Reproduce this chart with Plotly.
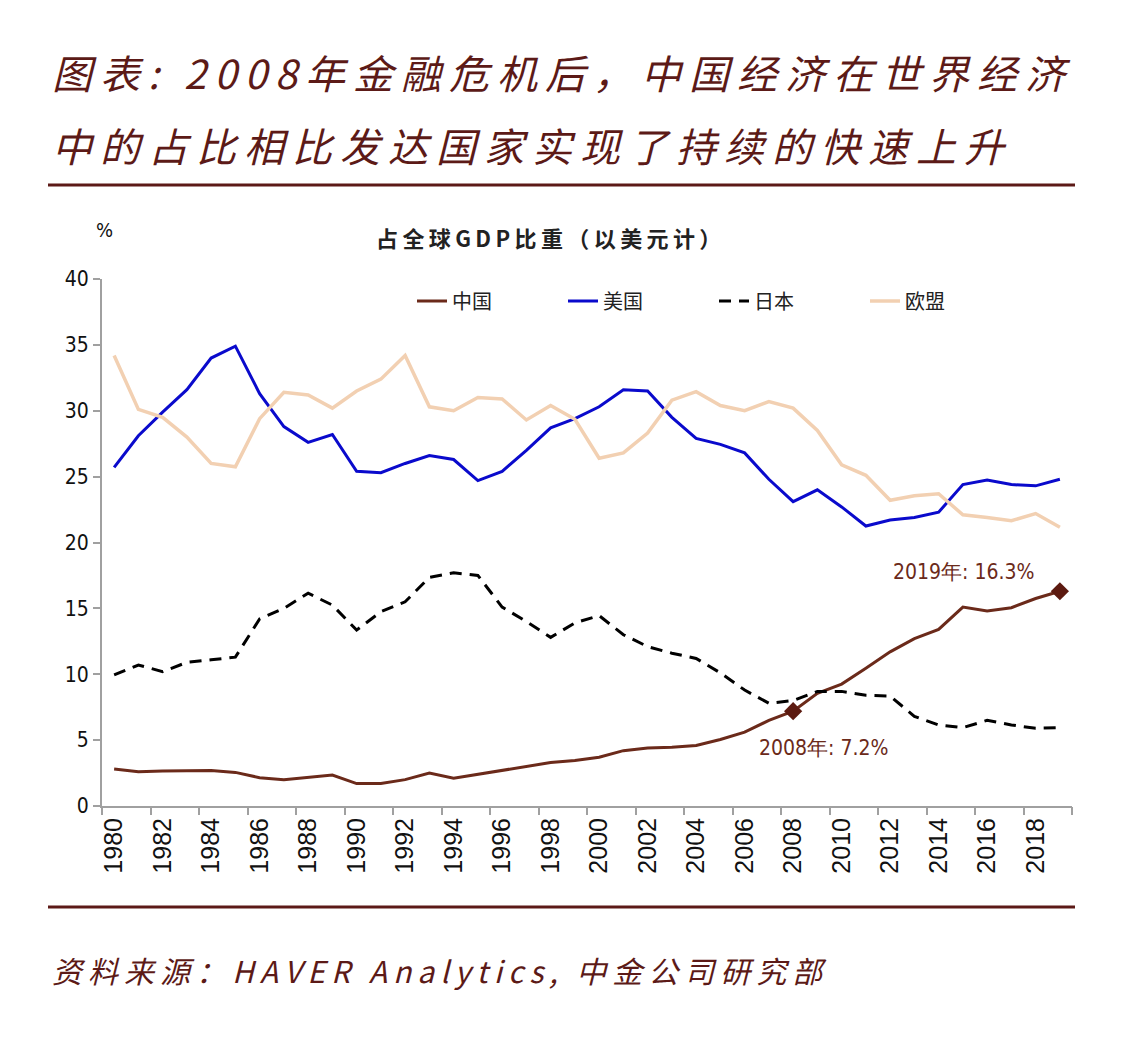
import plotly.graph_objects as go

years = list(range(1980, 2020))
china = [2.8, 2.6, 2.65, 2.7, 2.7, 2.55, 2.15, 2.0, 2.2, 2.35,
         1.7, 1.7, 2.0, 2.5, 2.1, 2.4, 2.75, 3.05, 3.3, 3.45,
         3.7, 4.2, 4.4, 4.45, 4.6, 5.05, 5.6, 6.5, 7.2, 8.55,
         9.25, 10.45, 11.7, 12.7, 13.4, 15.1, 14.8, 15.05, 15.75, 16.3]
usa = [25.7, 28.1, 29.9, 31.6, 34.0, 34.9, 31.3, 28.8, 27.6, 28.2,
       25.4, 25.3, 26.0, 26.6, 26.3, 24.7, 25.4, 27.0, 28.7, 29.4,
       30.3, 31.6, 31.5, 29.5, 27.9, 27.45, 26.8, 24.8, 23.1, 24.0,
       22.7, 21.25, 21.7, 21.9, 22.3, 24.4, 24.75, 24.4, 24.3, 24.8]
japan = [9.95, 10.7, 10.2, 10.9, 11.1, 11.3, 14.2, 15.0, 16.15, 15.25,
         13.35, 14.75, 15.5, 17.35, 17.7, 17.5, 15.1, 14.0, 12.8, 13.9,
         14.45, 13.0, 12.1, 11.6, 11.2, 10.1, 8.8, 7.8, 8.0, 8.7,
         8.7, 8.4, 8.35, 6.8, 6.15, 5.95, 6.5, 6.15, 5.9, 5.95]
eu = [34.2, 30.1, 29.5, 28.0, 26.0, 25.75, 29.4, 31.4, 31.2, 30.2,
      31.5, 32.4, 34.2, 30.3, 30.0, 31.0, 30.9, 29.3, 30.4, 29.35,
      26.4, 26.8, 28.3, 30.8, 31.45, 30.4, 30.0, 30.7, 30.2, 28.5,
      25.9, 25.1, 23.2, 23.55, 23.7, 22.1, 21.9, 21.65, 22.2, 21.15]
series_names = ["中国", "美国", "日本", "欧盟"]
highlight_years = [2008, 2019]
highlight_labels = ["2008年: 7.2%", "2019年: 16.3%"]
tick_years = list(range(1980, 2020, 2))
y_ticks = [0, 5, 10, 15, 20, 25, 30, 35, 40]

title_lines = ["图表: 2008年金融危机后，中国经济在世界经济", "中的占比相比发达国家实现了持续的快速上升"]
subtitle_text = "占全球GDP比重（以美元计）"
source_text = "资料来源：HAVER Analytics, 中金公司研究部"

OFF = 8  # browser default body margin
W, H = 1125 - 2 * OFF, 1056 - 2 * OFF
L, R, T, B = 102 - OFF, 1072 - OFF, 279 - OFF, 806 - OFF
DARK = "#5C1A17"
BROWN = "#6B2A1A"

def px(xp):
    return (xp - OFF - L) / (R - L)

def py(yp):
    return (B - (yp - OFF)) / (B - T)

def spaced(s, sep="\u2009"):
    return sep.join(list(s))

fig = go.Figure()
fig.add_trace(go.Scatter(x=years, y=china, name=series_names[0], mode="lines",
                         line=dict(color=BROWN, width=3)))
fig.add_trace(go.Scatter(x=years, y=usa, name=series_names[1], mode="lines",
                         line=dict(color="#0A0ACC", width=3)))
fig.add_trace(go.Scatter(x=years, y=japan, name=series_names[2], mode="lines",
                         line=dict(color="#000000", width=3, dash="12px,8px")))
fig.add_trace(go.Scatter(x=years, y=eu, name=series_names[3], mode="lines",
                         line=dict(color="#F2D0B2", width=3.5)))
hx = highlight_years
hy = [china[years.index(y)] for y in hx]
fig.add_trace(go.Scatter(x=hx, y=hy, mode="markers", showlegend=False,
                         marker=dict(symbol="diamond", size=14, color="#5C1A10")))
# boundary ticks axis
fig.add_trace(go.Scatter(x=[1980], y=[0], xaxis="x2", mode="markers",
                         marker=dict(opacity=0), showlegend=False, hoverinfo="skip"))

fig.update_layout(
    width=W, height=H,
    margin=dict(l=L, r=W - R, t=T, b=H - B),
    paper_bgcolor="white", plot_bgcolor="white",
    font=dict(family="Liberation Sans, Arial, sans-serif", color="#111"),
    showlegend=True,
    legend=dict(orientation="h", x=px(412), y=py(301), xanchor="left", yanchor="middle",
                entrywidth=106, entrywidthmode="pixels",
                font=dict(family="Noto Sans CJK SC", size=20, color="#222"),
                bgcolor="rgba(0,0,0,0)"),
    xaxis=dict(range=[1979.5, 2019.5], tickvals=tick_years, ticktext=[str(v) for v in tick_years],
               tickangle=-90, ticks="", showgrid=False, zeroline=False,
               showline=True, linecolor="#A0A0A0", linewidth=2,
               tickfont=dict(family="Liberation Sans", size=25, color="#111")),
    xaxis2=dict(range=[1979.5, 2019.5], overlaying="x", anchor="y",
                tickvals=[1979.5 + 2 * i for i in range(21)], showticklabels=False,
                ticks="outside", ticklen=8, tickcolor="#A0A0A0", tickwidth=1.5,
                showgrid=False, zeroline=False, showline=False, side="bottom"),
    yaxis=dict(range=[0, 40], tickvals=y_ticks, ticks="outside", ticklen=7,
               tickcolor="#A0A0A0", tickwidth=1.5, showgrid=False, zeroline=False,
               showline=True, linecolor="#A0A0A0", linewidth=2,
               tickfont=dict(family="DejaVu Sans Condensed, DejaVu Sans", size=21, color="#111")),
)

shapes = []
for yp in (185, 907):
    shapes.append(dict(type="line", xref="paper", yref="paper", x0=px(48), x1=px(1075),
                       y0=py(yp), y1=py(yp), line=dict(color=DARK, width=3)))
fig.update_layout(shapes=shapes)

ann = []
for line, yc in zip(title_lines, (72, 145)):
    ann.append(dict(text=f"<i>{spaced(line)}</i>", xref="paper", yref="paper", x=px(50), y=py(yc),
                    xanchor="left", yanchor="middle", showarrow=False, align="left",
                    font=dict(family="Noto Sans CJK SC", size=40, color=DARK)))
ann.append(dict(text=f"<i>{spaced(source_text)}</i>", xref="paper", yref="paper", x=px(50), y=py(970),
                xanchor="left", yanchor="middle", showarrow=False, align="left",
                font=dict(family="Noto Sans CJK SC", size=30, color=DARK)))
ann.append(dict(text=f"<b>{spaced(subtitle_text)}</b>", xref="paper", yref="paper", x=px(548), y=py(237),
                xanchor="center", yanchor="middle", showarrow=False,
                font=dict(family="Noto Sans CJK SC", size=22, color="#222")))
ann.append(dict(text="%", xref="paper", yref="paper", x=px(104), y=py(230),
                xanchor="center", yanchor="middle", showarrow=False,
                font=dict(family="DejaVu Sans Condensed, DejaVu Sans", size=20, color="#111")))
ann.append(dict(text=highlight_labels[0], x=hx[0], y=hy[0], xref="x", yref="y",
                showarrow=False, xanchor="center", yanchor="middle", xshift=30, yshift=-37,
                font=dict(family="DejaVu Sans Condensed, DejaVu Sans", size=21, color=BROWN)))
ann.append(dict(text=highlight_labels[1], x=hx[1], y=hy[1], xref="x", yref="y",
                showarrow=False, xanchor="center", yanchor="middle", xshift=-96, yshift=19,
                font=dict(family="DejaVu Sans Condensed, DejaVu Sans", size=21, color=BROWN)))
fig.update_layout(annotations=ann)

fig.write_html("out.html")
